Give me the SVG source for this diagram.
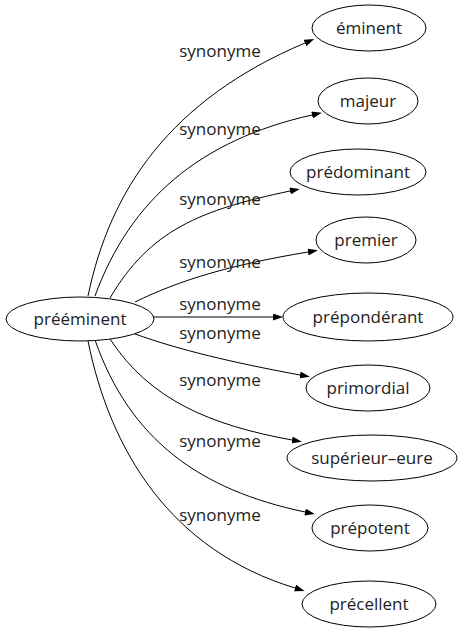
<svg xmlns="http://www.w3.org/2000/svg" width="464" height="635" viewBox="0 0 464 635">
<style>
.n ellipse{fill:#fff;stroke:#000;stroke-width:1}
text{font-family:"Open Sans","DejaVu Sans",sans-serif;font-size:17px;fill:#222;text-anchor:middle}
.e path{fill:none;stroke:#000;stroke-width:1}
</style>
<defs>
<marker id="a" viewBox="0 0 10 7" refX="0" refY="3.5" markerWidth="10" markerHeight="7" markerUnits="userSpaceOnUse" orient="auto">
<polygon points="0,0 10,3.5 0,7" fill="#000"/>
</marker>
</defs>
<rect width="464" height="635" fill="#fff"/>
<g id="edges" class="e">
<path d="M88,296 C110,190 170,100 305,43" marker-end="url(#a)"/>
<path d="M95,296 C130,200 200,140 312,115" marker-end="url(#a)"/>
<path d="M110,298 C150,230 200,210 290,191" marker-end="url(#a)"/>
<path d="M135,302 C180,280 230,265 308,252" marker-end="url(#a)"/>
<path d="M153,317 L273,317" marker-end="url(#a)"/>
<path d="M135,334 C180,350 230,362 300,375" marker-end="url(#a)"/>
<path d="M110,339 C150,400 210,425 292,440" marker-end="url(#a)"/>
<path d="M95,340 C130,440 200,490 305,512" marker-end="url(#a)"/>
<path d="M88,341 C110,450 170,550 295,588" marker-end="url(#a)"/>
<text x="220" y="57">synonyme</text>
<text x="220" y="135">synonyme</text>
<text x="220" y="205">synonyme</text>
<text x="220" y="268">synonyme</text>
<text x="220" y="310">synonyme</text>
<text x="220" y="339">synonyme</text>
<text x="220" y="386">synonyme</text>
<text x="220" y="447">synonyme</text>
<text x="220" y="521">synonyme</text>
</g>
<g id="n0" class="n"><ellipse cx="80" cy="319" rx="74" ry="22"/><text x="80" y="325">prééminent</text></g>
<g id="n1" class="n"><ellipse cx="369" cy="28" rx="57" ry="23"/><text x="369" y="34">éminent</text></g>
<g id="n2" class="n"><ellipse cx="368" cy="101" rx="50" ry="23"/><text x="368" y="107">majeur</text></g>
<g id="n3" class="n"><ellipse cx="358" cy="172" rx="68" ry="23"/><text x="358" y="178">prédominant</text></g>
<g id="n4" class="n"><ellipse cx="366" cy="240" rx="50" ry="23"/><text x="366" y="246">premier</text></g>
<g id="n5" class="n"><ellipse cx="368" cy="317" rx="85" ry="24"/><text x="368" y="323">prépondérant</text></g>
<g id="n6" class="n"><ellipse cx="368" cy="388" rx="62" ry="23"/><text x="368" y="394">primordial</text></g>
<g id="n7" class="n"><ellipse cx="372" cy="458" rx="85" ry="23"/><text x="372" y="464">supérieur–eure</text></g>
<g id="n8" class="n"><ellipse cx="370" cy="528" rx="58" ry="23"/><text x="370" y="534">prépotent</text></g>
<g id="n9" class="n"><ellipse cx="369" cy="604" rx="67" ry="23"/><text x="369" y="610">précellent</text></g>
</svg>
